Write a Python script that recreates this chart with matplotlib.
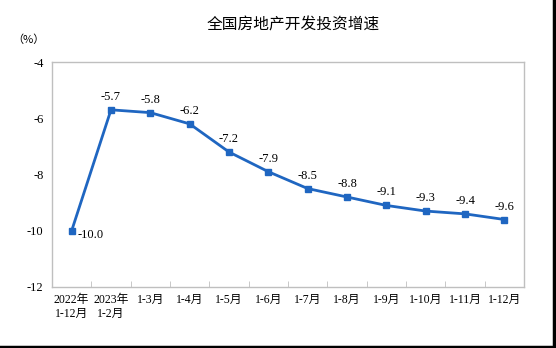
#!/usr/bin/env python3
import matplotlib
matplotlib.use('Agg')
import matplotlib.pyplot as plt
from matplotlib.lines import Line2D

plt.rcParams['font.family'] = ['Liberation Serif', 'Noto Sans CJK SC', 'DejaVu Sans']

# data
periods = ["2022年\n1-12月", "2023年\n1-2月", "1-3月", "1-4月", "1-5月", "1-6月",
           "1-7月", "1-8月", "1-9月", "1-10月", "1-11月", "1-12月"]
growth = [-10.0, -5.7, -5.8, -6.2, -7.2, -7.9, -8.5, -8.8, -9.1, -9.3, -9.4, -9.6]
yticks = [-12, -10, -8, -6, -4]

blue = '#1f66c1'
grey = '#bfbfbf'

fig = plt.figure(figsize=(5.56, 3.48), dpi=100)
ax = fig.add_axes([0.0935, 0.1753, 0.849, 0.6465])

x = list(range(len(growth)))
ax.plot(x, growth, color=blue, lw=2, marker='s', ms=4.5, mec=blue, mfc=blue)

# value labels: first one to the right, the rest above
for i, v in enumerate(growth):
    if i == 0:
        ax.annotate(f"{v:.1f}", (i, v), xytext=(4, -3), textcoords='offset points',
                    ha='left', va='center', fontsize=9, family='Liberation Serif')
    else:
        ax.annotate(f"{v:.1f}", (i, v), xytext=(0, 5), textcoords='offset points',
                    ha='center', va='bottom', fontsize=9, family='Liberation Serif')

ax.set_xlim(-0.5, len(growth) - 0.5)
ax.set_ylim(-12, -4)
ax.set_yticks(yticks)
ax.set_yticklabels([str(t) for t in yticks], fontsize=9)
ax.tick_params(axis='y', length=0, pad=6)

ax.set_xticks(x)
ax.set_xticklabels(periods, fontsize=8.5, linespacing=1.25)
ax.tick_params(axis='x', length=0, pad=5)
for lbl in ax.get_xticklabels():
    lbl.set_verticalalignment('top')
ax.set_xticks([i + 0.5 for i in range(len(growth) - 1)], minor=True)
ax.tick_params(axis='x', which='minor', direction='in', length=4, color=grey)

for s in ax.spines.values():
    s.set_color(grey)
    s.set_linewidth(1)

fig.text(0.527, 0.928, "全国房地产开发投资增速", ha='center', va='center',
         fontsize=11.3, family=['Noto Sans CJK SC'])
fig.text(0.052, 0.885, "（%）", ha='center', va='center', fontsize=8,
         family=['Noto Sans CJK SC'])

# dark frame on the right and bottom edges of the picture
fig.add_artist(Line2D([0, 1], [0.004, 0.004], transform=fig.transFigure, color='black', lw=2.5))
fig.add_artist(Line2D([0.996, 0.996], [0, 1], transform=fig.transFigure, color='black', lw=2.5))

fig.savefig('out.png', dpi=100)
